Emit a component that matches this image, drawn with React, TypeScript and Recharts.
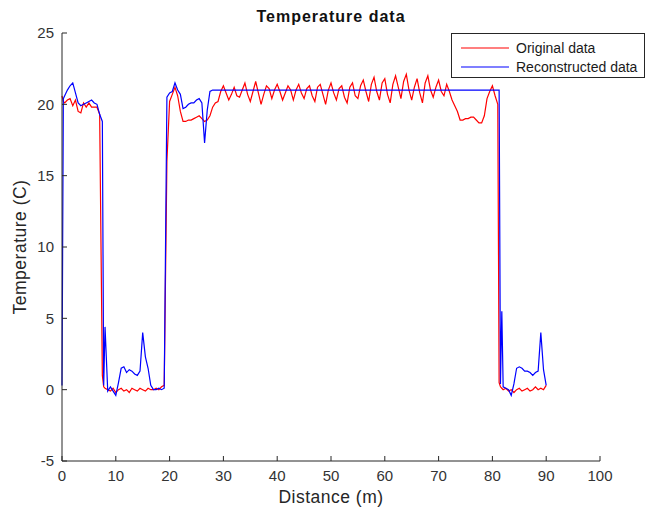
import { LineChart, Line, XAxis, YAxis, Legend } from 'recharts'

const FONT = '"Liberation Sans", Arial, Helvetica, sans-serif'
const AXIS = '#262626'
const TICK_LEN = 5

// distance along the run (m)
const distance = [
  0, 0.25, 0.5, 1, 1.5, 2, 2.5, 3, 3.5, 4, 4.5,
  5, 5.5, 6, 6.5, 7, 7.5, 7.75, 8, 8.5, 9, 9.5,
  10, 10.5, 11, 11.5, 12, 12.5, 13, 13.5, 14, 14.5,
  15, 15.5, 16, 16.5, 17, 17.5, 18, 18.5, 19, 19.5,
  20, 20.5, 21, 21.5, 22, 22.5, 23, 23.5, 24, 24.5,
  25, 25.5, 26, 26.5, 27, 27.5, 28, 28.5, 29, 29.5,
  30, 30.5, 31, 31.5, 32, 32.5, 33, 33.5, 34, 34.5,
  35, 35.5, 36, 36.5, 37, 37.5, 38, 38.5, 39, 39.5,
  40, 40.5, 41, 41.5, 42, 42.5, 43, 43.5, 44, 44.5,
  45, 45.5, 46, 46.5, 47, 47.5, 48, 48.5, 49, 49.5,
  50, 50.5, 51, 51.5, 52, 52.5, 53, 53.5, 54, 54.5,
  55, 55.5, 56, 56.5, 57, 57.5, 58, 58.5, 59, 59.5,
  60, 60.5, 61, 61.5, 62, 62.5, 63, 63.5, 64, 64.5,
  65, 65.5, 66, 66.5, 67, 67.5, 68, 68.5, 69, 69.5,
  70, 70.5, 71, 71.5, 72, 72.5, 73, 73.5, 74, 74.5,
  75, 75.5, 76, 76.5, 77, 77.5, 78, 78.5, 79, 79.5,
  80, 80.5, 81, 81.25, 81.5, 81.75, 82, 82.5, 83, 83.5, 84, 84.5,
  85, 85.5, 86, 86.5, 87, 87.5, 88, 88.5, 89, 89.5,
  90,
]

// original temperature (C)
const original = [
  20.6, 20.2, 20.1, 20.3, 20.4, 19.9, 20.3, 19.5, 19.4, 20.1, 19.8,
  20.1, 19.8, 19.8, 19.8, 19.3, 1.0, 0.2, 0.1, 0.0, -0.1, 0.1,
  -0.2, 0.0, 0.1, -0.1, 0.0, -0.2, 0.1, 0.0, -0.1, 0.1,
  0.0, -0.1, 0.1, 0.0, 0.0, 0.1, 0.0, 0.2, 0.3, 16.0,
  20.2, 20.7, 21.2, 20.6, 19.5, 18.8, 18.8, 18.9, 18.9, 19.0,
  19.1, 19.2, 19.0, 18.8, 18.9, 19.2, 19.8, 20.1, 20.2, 20.9,
  21.3, 20.8, 20.3, 20.7, 21.2, 20.6, 20.5, 21.0, 21.5, 20.7,
  20.2, 20.9, 21.6, 20.8, 20.0, 20.7, 21.3, 21.1, 20.4, 21.0,
  21.4, 20.9, 20.3, 20.8, 21.3, 21.0, 20.3, 21.0, 21.4, 20.8,
  20.4, 21.1, 21.3, 20.6, 20.2, 21.2, 21.4, 20.7, 20.0, 21.0,
  21.5, 20.8, 20.3, 21.1, 21.3, 20.5, 20.1, 21.2, 21.5, 20.6,
  20.4, 21.3, 21.7, 20.9, 20.2, 21.4, 21.9, 20.9, 20.3, 21.5,
  21.8, 20.7, 20.1, 21.4, 22.0, 21.2, 20.4, 21.6, 22.1, 21.0,
  20.3, 21.2, 21.8, 20.8, 20.1, 21.5, 22.0, 21.0, 20.5, 21.2,
  21.7, 20.9, 20.6, 21.4, 20.9, 20.3, 19.9, 19.5, 18.9, 18.9,
  19.0, 19.0, 19.1, 19.1, 18.9, 18.7, 18.7, 19.2, 20.4, 20.9,
  21.3, 20.6, 20.0, 0.5, 0.2, 0.1, 0.0, 0.1, -0.1, 0.0, -0.2, 0.0,
  0.1, -0.1, 0.0, 0.1, -0.1, 0.0, 0.2, 0.0, 0.1, 0.0,
  0.3,
]

// reconstructed temperature (C)
const reconstructed = [
  0.3, 20.4, 20.6, 21.0, 21.3, 21.5, 20.8, 20.1, 19.9, 20.0, 20.1,
  20.2, 20.3, 20.1, 20.0, 19.3, 18.8, 0.3, 4.4, -0.1, 0.2, -0.1,
  -0.4, 0.5, 1.5, 1.6, 1.2, 1.4, 1.3, 1.1, 1.0, 1.3,
  4.0, 2.3, 1.5, 0.3, 0.0, 0.0, 0.1, 0.0, 0.1, 20.5,
  20.8, 20.9, 21.5, 21.0, 20.7, 19.7, 19.8, 20.0, 20.1, 20.1,
  20.3, 20.4, 20.1, 17.3, 19.6, 20.9, 21.0, 21.0, 21.0, 21.0,
  21.0, 21.0, 21.0, 21.0, 21.0, 21.0, 21.0, 21.0, 21.0, 21.0,
  21.0, 21.0, 21.0, 21.0, 21.0, 21.0, 21.0, 21.0, 21.0, 21.0,
  21.0, 21.0, 21.0, 21.0, 21.0, 21.0, 21.0, 21.0, 21.0, 21.0,
  21.0, 21.0, 21.0, 21.0, 21.0, 21.0, 21.0, 21.0, 21.0, 21.0,
  21.0, 21.0, 21.0, 21.0, 21.0, 21.0, 21.0, 21.0, 21.0, 21.0,
  21.0, 21.0, 21.0, 21.0, 21.0, 21.0, 21.0, 21.0, 21.0, 21.0,
  21.0, 21.0, 21.0, 21.0, 21.0, 21.0, 21.0, 21.0, 21.0, 21.0,
  21.0, 21.0, 21.0, 21.0, 21.0, 21.0, 21.0, 21.0, 21.0, 21.0,
  21.0, 21.0, 21.0, 21.0, 21.0, 21.0, 21.0, 21.0, 21.0, 21.0,
  21.0, 21.0, 21.0, 21.0, 21.0, 21.0, 21.0, 21.0, 21.0, 21.0,
  21.0, 21.0, 21.0, 21.0, 0.4, 5.5, 0.2, 0.1, 0.0, -0.4, 0.4, 1.5,
  1.6, 1.5, 1.3, 1.3, 1.2, 1.0, 1.2, 1.3, 4.0, 1.4,
  0.3,
]

const xTicks = [0, 10, 20, 30, 40, 50, 60, 70, 80, 90, 100]
const yTicks = [-5, 0, 5, 10, 15, 20, 25]

const seriesNames = ['Original data', 'Reconstructed data']
const seriesColors = ['#ff0000', '#0000ff']

const rows = distance.map((d, i) => ({ d, original: original[i], reconstructed: reconstructed[i] }))

// chart frame
const W = 648
const H = 514
const MARGIN = { top: 33, right: 48, bottom: 8, left: 0 }
const X_AXIS_H = 45
const Y_AXIS_W = 62
const PLOT_TOP = MARGIN.top
const PLOT_BOTTOM = H - MARGIN.bottom - X_AXIS_H
const PLOT_LEFT = MARGIN.left + Y_AXIS_W
const PLOT_RIGHT = W - MARGIN.right

const labelText = { fill: '#333', fontSize: 15, fontFamily: FONT }

// MATLAB style: tick marks point into the plot box
function BottomTick({ x, payload }: any) {
  return (
    <g>
      <line x1={x} x2={x} y1={PLOT_BOTTOM} y2={PLOT_BOTTOM - TICK_LEN} stroke={AXIS} />
      <text x={x} y={PLOT_BOTTOM + 9} dy="0.71em" textAnchor="middle" {...labelText}>{payload.value}</text>
    </g>
  )
}

function LeftTick({ y, payload }: any) {
  return (
    <g>
      <line x1={PLOT_LEFT} x2={PLOT_LEFT + TICK_LEN} y1={y} y2={y} stroke={AXIS} />
      <text x={PLOT_LEFT - 8} y={y} dy="0.355em" textAnchor="end" {...labelText}>{payload.value}</text>
    </g>
  )
}

function TopTick({ x }: any) {
  return <line x1={x} x2={x} y1={PLOT_TOP} y2={PLOT_TOP + TICK_LEN} stroke={AXIS} />
}

function RightTick({ y }: any) {
  return <line x1={PLOT_RIGHT} x2={PLOT_RIGHT - TICK_LEN} y1={y} y2={y} stroke={AXIS} />
}

function LegendBox() {
  return (
    <div
      style={{
        width: 194,
        height: 45,
        boxSizing: 'border-box',
        border: `1px solid ${AXIS}`,
        background: '#fff',
        paddingTop: 4,
        fontFamily: FONT,
        fontSize: 14,
        color: '#1a1a1a',
      }}
    >
      {seriesNames.map((name, i) => (
        <div key={name} style={{ display: 'flex', alignItems: 'center', height: 19 }}>
          <svg width={48} height={4} style={{ marginLeft: 9, marginRight: 7 }}>
            <line x1={0} x2={48} y1={2} y2={2} stroke={seriesColors[i]} strokeWidth={1.2} />
          </svg>
          <span>{name}</span>
        </div>
      ))}
    </div>
  )
}

export default function App() {
  return (
    <div style={{ position: 'absolute', left: 0, top: 0, width: W, height: H, background: '#fff' }}>
      <div
        style={{
          position: 'absolute',
          left: PLOT_LEFT,
          top: 9,
          width: PLOT_RIGHT - PLOT_LEFT,
          textAlign: 'center',
          fontFamily: FONT,
          fontSize: 16,
          lineHeight: '16px',
          fontWeight: 'bold',
          letterSpacing: 1,
          color: '#111',
        }}
      >
        Temperature data
      </div>
      <LineChart width={W} height={H} data={rows} margin={MARGIN}>
        <XAxis
          dataKey="d"
          type="number"
          domain={[0, 100]}
          ticks={xTicks}
          height={X_AXIS_H}
          stroke={AXIS}
          tickLine={false}
          tick={<BottomTick />}
          label={{
            value: 'Distance (m)',
            position: 'insideBottom',
            offset: 3,
            fill: '#262626',
            style: { fontSize: 17.5, fontFamily: FONT, letterSpacing: 0.5 },
          }}
        />
        <XAxis
          xAxisId="top"
          orientation="top"
          dataKey="d"
          type="number"
          domain={[0, 100]}
          ticks={xTicks}
          height={0}
          stroke={AXIS}
          tickLine={false}
          tick={<TopTick />}
        />
        <YAxis
          type="number"
          domain={[-5, 25]}
          ticks={yTicks}
          width={Y_AXIS_W}
          stroke={AXIS}
          tickLine={false}
          tick={<LeftTick />}
          label={{
            value: 'Temperature (C)',
            angle: -90,
            position: 'insideLeft',
            offset: 20,
            fill: '#262626',
            style: { fontSize: 17.5, fontFamily: FONT, letterSpacing: 0.5, textAnchor: 'middle' },
          }}
        />
        <YAxis
          yAxisId="right"
          orientation="right"
          type="number"
          domain={[-5, 25]}
          ticks={yTicks}
          width={0}
          stroke={AXIS}
          tickLine={false}
          tick={<RightTick />}
        />
        <Legend
          layout="vertical"
          align="center"
          verticalAlign="middle"
          content={<LegendBox />}
          wrapperStyle={{ left: 451, top: 33, width: 194 }}
        />
        <Line
          type="linear"
          dataKey="original"
          name={seriesNames[0]}
          stroke={seriesColors[0]}
          strokeWidth={1.2}
          dot={false}
          activeDot={false}
          isAnimationActive={false}
        />
        <Line
          type="linear"
          dataKey="reconstructed"
          name={seriesNames[1]}
          stroke={seriesColors[1]}
          strokeWidth={1.2}
          dot={false}
          activeDot={false}
          isAnimationActive={false}
        />
      </LineChart>
    </div>
  )
}
